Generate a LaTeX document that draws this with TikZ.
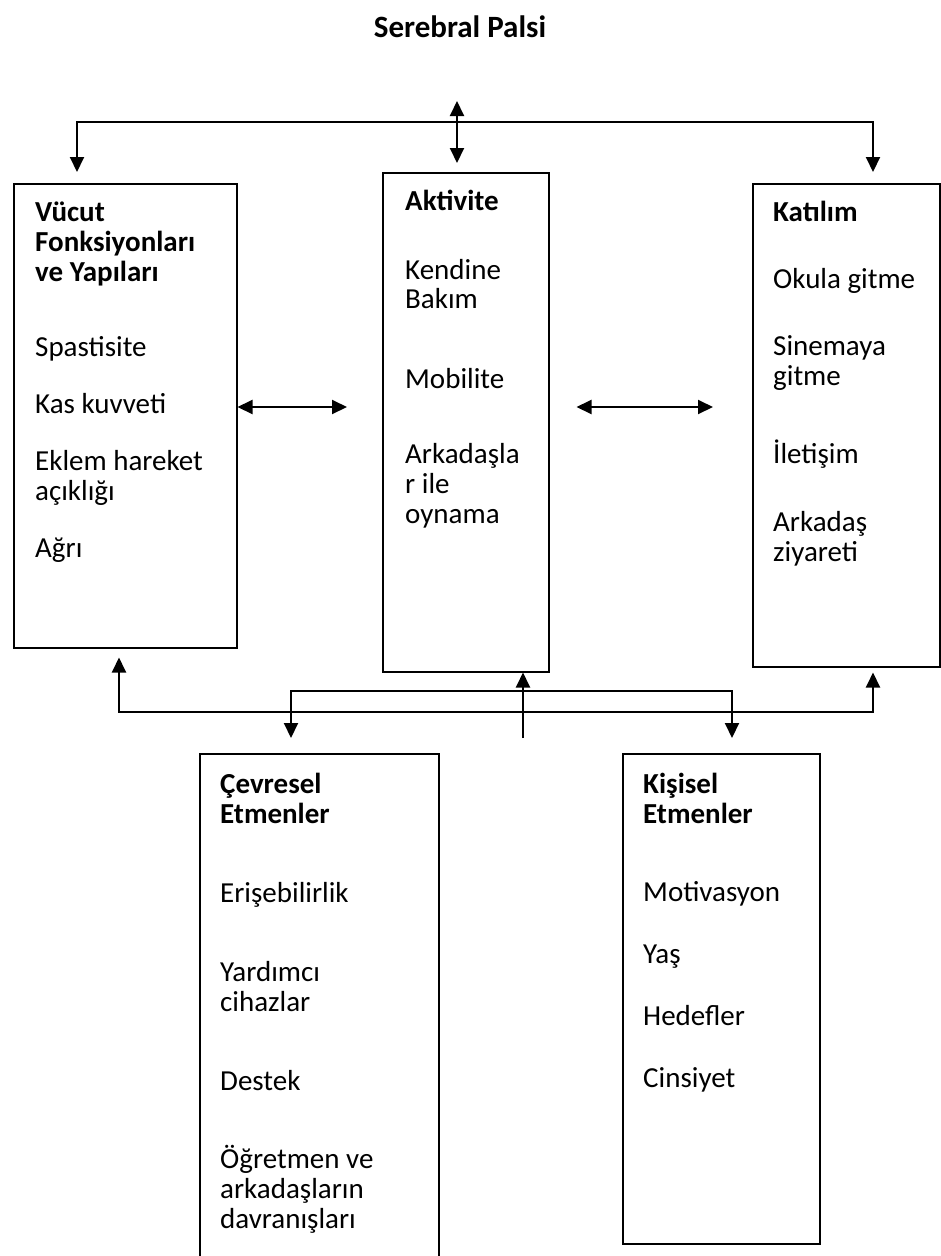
\documentclass[tikz,border=0pt]{standalone}
\usepackage{fontspec}
\setmainfont{Carlito}
\usetikzlibrary{positioning,arrows.meta,calc}

\begin{document}
\begin{tikzpicture}[x=1pt, y=-1pt, >={Triangle[width=14pt,length=15pt]},
  every node/.style={font=\fontsize{29}{30}\selectfont, inner sep=0pt},
  frame/.style={draw, line width=1.5pt, anchor=north west},
  txt/.style={anchor=base west},
  link/.style={line width=2pt}]
  \useasboundingbox (0,0) rectangle (941,1256);

  \node[font=\fontsize{31}{34}\selectfont\bfseries] (title) at (460,27) {Serebral Palsi};

  % frames
  \node[frame, minimum width=223pt, minimum height=464pt] (vucut) at (13,183) {};
  \node[frame, minimum width=166pt, minimum height=499pt] (aktivite) at (382,172) {};
  \node[frame, minimum width=187pt, minimum height=483pt] (katilim) at (752,183) {};
  \node[frame, minimum width=239pt, minimum height=530pt] (cevre) at (199,753) {};
  \node[frame, minimum width=197pt, minimum height=490pt] (kisisel) at (622,753) {};

  % texts, one line each, offset from the frame's top
  \foreach \t/\dy [count=\i] in {\textbf{Vücut}/38, \textbf{Fonksiyonları}/68,
      \textbf{ve Yapıları}/98, Spastisite/173, Kas kuvveti/230, Eklem hareket/287,
      açıklığı/317, Ağrı/374}
    \node[txt] (vucut-\i) at ($(vucut.north west)+(22,\dy)$) {\t};
  \foreach \t/\dy [count=\i] in {\textbf{Aktivite}/38, Kendine/107, Bakım/136,
      Mobilite/216, Arkadaşla/291, r ile/321, oynama/351}
    \node[txt] (aktivite-\i) at ($(aktivite.north west)+(23,\dy)$) {\t};
  \foreach \t/\dy [count=\i] in {\textbf{Katılım}/38, Okula gitme/105, Sinemaya/172,
      gitme/202, İletişim/280, Arkadaş/348, ziyareti/378}
    \node[txt] (katilim-\i) at ($(katilim.north west)+(21,\dy)$) {\t};
  \foreach \t/\dy [count=\i] in {\textbf{Çevresel}/40, \textbf{Etmenler}/70,
      Erişebilirlik/149, Yardımcı/228, cihazlar/258, Destek/337, Öğretmen ve/415,
      arkadaşların/445, davranışları/475}
    \node[txt] (cevre-\i) at ($(cevre.north west)+(21,\dy)$) {\t};
  \foreach \t/\dy [count=\i] in {\textbf{Kişisel}/40, \textbf{Etmenler}/70,
      Motivasyon/148, Yaş/210, Hedefler/272, Cinsiyet/334}
    \node[txt] (kisisel-\i) at ($(kisisel.north west)+(21,\dy)$) {\t};

  % connectors
  \coordinate (apex) at (457,101);
  \coordinate (top) at (457,122);
  \coordinate (low) at (500,712);
  \coordinate (mid) at (500,691);
  \coordinate (stem) at (523,738);

  \draw[link,<->] ($(vucut.north west)+(64,-11)$) |- (top) -| ($(katilim.north west)+(121,-11)$);
  \draw[link,<->] (apex) -- ($(aktivite.north west)+(75,-9)$);
  \draw[link,<->] ($(vucut.north east)+(0,224)$) -- ($(aktivite.north west)+(-35,235)$);
  \draw[link,<->] ($(aktivite.north east)+(27,235)$) -- ($(katilim.north west)+(-39,224)$);
  \draw[link,<->] ($(vucut.south west)+(106,9)$) |- (low) -| ($(katilim.south west)+(121,5)$);
  \draw[link,<->] ($(cevre.north west)+(92,-15)$) |- (mid) -| ($(kisisel.north west)+(110,-15)$);
  \draw[link,->] (stem) -- ($(aktivite.south west)+(141,0)$);
\end{tikzpicture}
\end{document}
